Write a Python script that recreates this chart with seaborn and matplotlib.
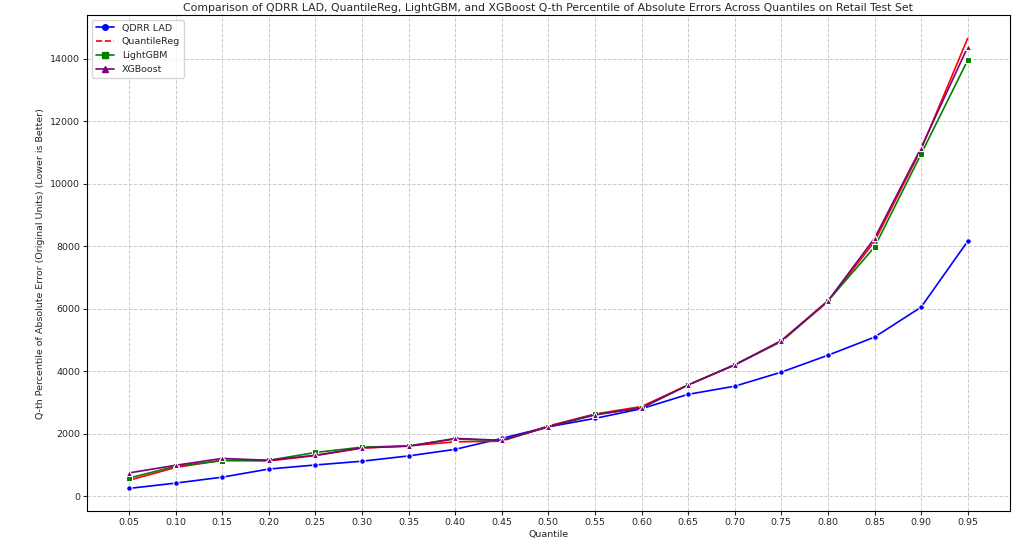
import matplotlib
matplotlib.use("Agg")
import matplotlib.pyplot as plt
import seaborn as sns
import pandas as pd
from matplotlib.lines import Line2D

quantiles = [0.05,0.10,0.15,0.20,0.25,0.30,0.35,0.40,0.45,0.50,0.55,0.60,0.65,0.70,0.75,0.80,0.85,0.90,0.95]
qdrr = [250,420,610,870,1000,1120,1290,1500,1850,2220,2490,2800,3260,3520,3970,4510,5090,6050,8160]
qreg = [510,920,1150,1130,1300,1540,1610,1740,1760,2250,2630,2870,3560,4200,4950,6230,8150,11100,14650]
lgbm = [580,960,1140,1150,1400,1570,1610,1830,1780,2220,2620,2820,3560,4210,4960,6250,7970,10950,13950]
xgb = [745,990,1210,1150,1310,1550,1600,1850,1790,2220,2600,2830,3560,4200,4980,6250,8250,11150,14370]

sns.set_style("whitegrid")
plt.rcParams['font.family'] = ['DejaVu Sans']
fig, ax = plt.subplots(figsize=(10.24, 5.41), dpi=100)
series = [("QDRR LAD", qdrr, "blue", "o"), ("QuantileReg", qreg, "red", None),
          ("LightGBM", lgbm, "green", "s"), ("XGBoost", xgb, "purple", "^")]
handles = []
for name, vals, c, m in series:
    df = pd.DataFrame({"q": quantiles, "v": vals})
    sns.lineplot(data=df, x="q", y="v", color=c, marker=m, markersize=4, linewidth=1.2, ax=ax)
    handles.append(Line2D([], [], color=c, marker=m, markersize=4, lw=1.2, ls="--" if m is None else "-", label=name))
ax.legend(handles=handles, loc="upper left", fontsize=6.8, frameon=True)
ax.set_xticks(quantiles)
ax.set_xticklabels([f"{q:.2f}" for q in quantiles])
ax.set_ylim(-480, 15390)
ax.tick_params(labelsize=6.8, length=3, left=True, bottom=True, pad=2)
for s in ax.spines.values():
    s.set_color("black"); s.set_linewidth(0.8)
ax.grid(True, linestyle="--", color="#cccccc", linewidth=0.7)
ax.set_xlabel("Quantile", fontsize=6.8, labelpad=2)
ax.set_ylabel("Q-th Percentile of Absolute Error (Original Units) (Lower is Better)", fontsize=6.8)
ax.set_title("Comparison of QDRR LAD, QuantileReg, LightGBM, and XGBoost Q-th Percentile of Absolute Errors Across Quantiles on Retail Test Set", fontsize=7.8, pad=3)
fig.subplots_adjust(left=0.085, right=0.986, top=0.972, bottom=0.055)
fig.savefig("out.png", dpi=100)
